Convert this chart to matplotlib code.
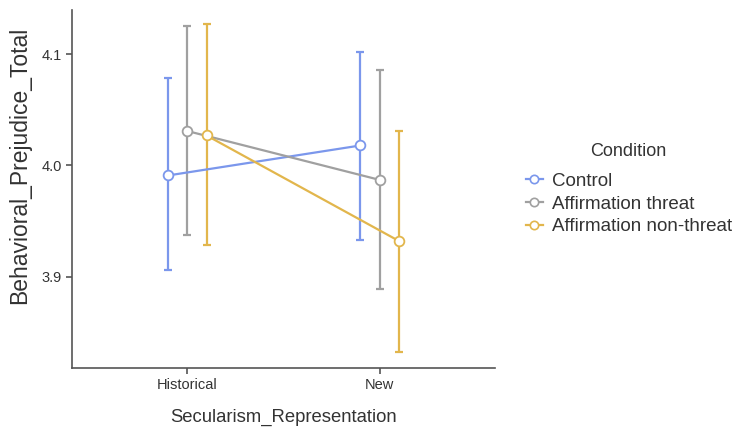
import matplotlib
matplotlib.use("Agg")
import matplotlib.pyplot as plt
from matplotlib.lines import Line2D
import numpy as np

plt.rcParams['font.family'] = ['Liberation Sans', 'DejaVu Sans']

categories = ["Historical", "New"]
conditions = ["Control", "Affirmation threat", "Affirmation non-threat"]
means = {
    "Control": [3.991, 4.018],
    "Affirmation threat": [4.031, 3.987],
    "Affirmation non-threat": [4.027, 3.932],
}
lower = {
    "Control": [3.906, 3.933],
    "Affirmation threat": [3.937, 3.889],
    "Affirmation non-threat": [3.928, 3.832],
}
upper = {
    "Control": [4.079, 4.102],
    "Affirmation threat": [4.126, 4.086],
    "Affirmation non-threat": [4.127, 4.031],
}
colors = {
    "Control": "#7b97ec",
    "Affirmation threat": "#a0a0a0",
    "Affirmation non-threat": "#e2b64c",
}
offsets = [-0.1, 0.0, 0.1]

fig = plt.figure(figsize=(7.32, 4.30), dpi=100)
ax = fig.add_axes([72/732, 1-368/430, (495-72)/732, (368-10)/430])

x = np.arange(1, len(categories)+1)
for cond, off in zip(conditions, offsets):
    xs = x + off
    m = np.array(means[cond]); lo = np.array(lower[cond]); hi = np.array(upper[cond])
    c = colors[cond]
    ax.errorbar(xs, m, yerr=[m-lo, hi-m], fmt='none', ecolor=c, elinewidth=1.6,
                capsize=3, capthick=1.6, zorder=2)
    ax.plot(xs, m, color=c, lw=1.6, zorder=3)
    ax.plot(xs, m, 'o', ms=7, mfc='white', mec=c, mew=1.3, zorder=4)

ax.set_xlim(0.4, 2.6)
ax.set_ylim(3.8176, 4.140)
ax.set_xticks(x)
ax.set_xticklabels(categories)
ax.set_yticks([3.9, 4.0, 4.1])
ax.set_yticklabels(["3.9", "4.0", "4.1"])
for s in ["top", "right"]:
    ax.spines[s].set_visible(False)
for s in ["left", "bottom"]:
    ax.spines[s].set_color("#555555")
    ax.spines[s].set_linewidth(1.2)
ax.tick_params(axis='both', direction='out', length=4, width=1.2, color="#555555",
               labelsize=10.5, labelcolor="#333333")
ax.set_xlabel("Secularism_Representation", fontsize=13.3, color="#333333", labelpad=11.5)
ax.set_ylabel("Behavioral_Prejudice_Total", fontsize=16.5, color="#333333")
ax.yaxis.set_label_coords(-(72-31)/423, (368-165)/358)

handles = [Line2D([0], [0], color=colors[c], lw=1.6, marker='o', ms=6, mfc='white',
                  mec=colors[c], mew=1.2) for c in conditions]
leg = fig.legend(handles, conditions, loc='center left',
                 bbox_to_anchor=(526/732, 1-204/430), frameon=False, fontsize=13.5,
                 handlelength=0.9, handletextpad=0.5,
                 labelspacing=0.3, labelcolor="#333333", borderaxespad=0, borderpad=0)
fig.text(628/732, 1-151/430, "Condition", ha='center', va='center', fontsize=13,
         color="#333333")

fig.savefig("out.png", dpi=100)
